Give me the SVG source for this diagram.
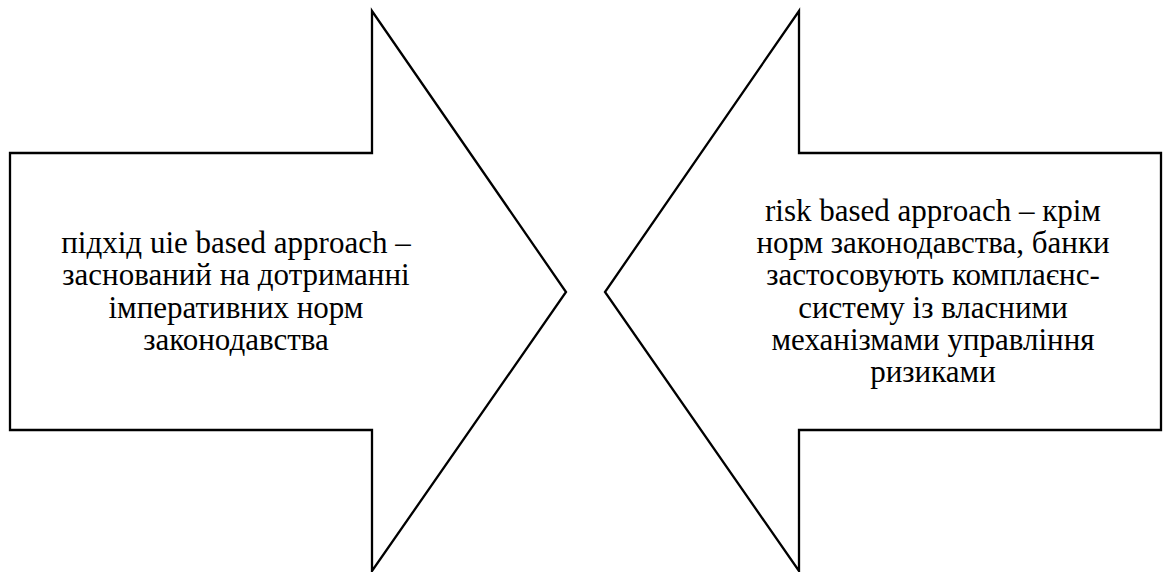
<svg xmlns="http://www.w3.org/2000/svg" width="1168" height="572" viewBox="0 0 1168 572">
<style>
.shape{fill:#fff;stroke:#000;stroke-width:2.3;stroke-linejoin:miter}
.t{font-family:"Liberation Serif","Times New Roman",serif;font-size:31px;fill:#000;text-anchor:middle}
</style>
<rect width="1168" height="572" fill="#fff"/>
<g id="left-arrow">
<path class="shape" d="M10,153 L372,153 L372,11 L566,292 L372,571 L372,430 L10,430 Z"/>
<text class="t" x="236" y="253">підхід uie based approach –</text>
<text class="t" x="236" y="285">заснований на дотриманні</text>
<text class="t" x="236" y="318">імперативних норм</text>
<text class="t" x="236" y="350">законодавства</text>
</g>
<g id="right-arrow">
<path class="shape" d="M1161,153 L799,153 L799,11 L605,292 L799,571 L799,430 L1161,430 Z"/>
<text class="t" x="933" y="221">risk based approach – крім</text>
<text class="t" x="933" y="253">норм законодавства, банки</text>
<text class="t" x="933" y="285">застосовують комплаєнс-</text>
<text class="t" x="933" y="318">систему із власними</text>
<text class="t" x="933" y="350">механізмами управління</text>
<text class="t" x="933" y="382">ризиками</text>
</g>
<g id="connectors"/>
</svg>
